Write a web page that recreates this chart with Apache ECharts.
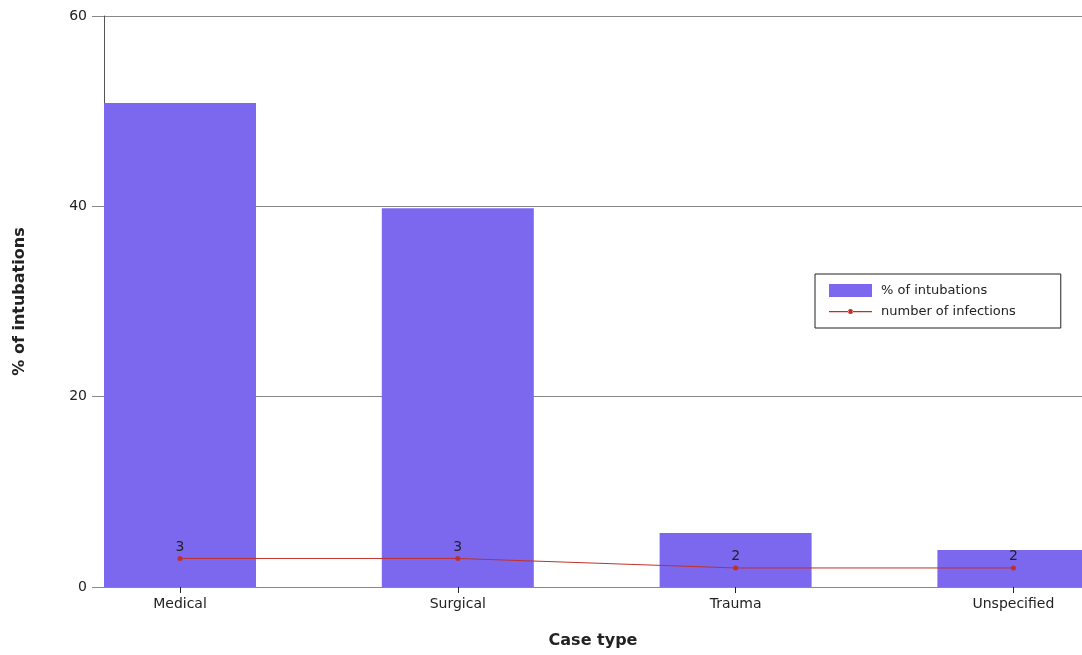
<!DOCTYPE html>
<html><head><meta charset="utf-8">
<script src="https://cdn.jsdelivr.net/npm/echarts@6/dist/echarts.min.js"></script>
<style>html,body{margin:0;padding:0;background:#fff}#c{width:1082px;height:655px}</style>
</head><body><div id="c"></div>
<script>
const categories = ['Medical', 'Surgical', 'Trauma', 'Unspecified'];
const pctIntubations = [50.86, 39.8, 5.67, 3.89];
const numInfections = [3, 3, 2, 2];
const yTicks = [0, 20, 40, 60];

const idx = categories.map((c, i) => i);
const chart = echarts.init(document.getElementById('c'));
const font = 'DejaVu Sans';
const lineIcon = 'path://M0,0 M43,13 M0,6 L19.5,6 L19.5,7.2 L0,7.2 Z M23.5,6 L43,6 L43,7.2 L23.5,7.2 Z M19,6.6 A2.5,2.5 0 1 0 24,6.6 A2.5,2.5 0 1 0 19,6.6 Z';
chart.setOption({
  animation: false,
  textStyle: { fontFamily: font },
  grid: { left: 104, right: 0, top: 16, bottom: 68 },
  legend: {
    orient: 'vertical', left: 815, top: 274,
    padding: [10, 45, 10, 14], itemGap: 8,
    itemWidth: 43, itemHeight: 13,
    borderColor: '#222', borderWidth: 1,
    textStyle: { fontFamily: font, fontSize: 13, color: '#222', padding: [0, 0, 0, 4] },
    data: [
      { name: '% of intubations', icon: 'rect' },
      { name: 'number of infections', icon: lineIcon }
    ]
  },
  xAxis: {
    type: 'value', min: -0.2736, max: 3.2469,
    name: 'Case type', nameLocation: 'middle', nameGap: 46,
    nameTextStyle: { fontFamily: font, fontSize: 16, fontWeight: 'bold', color: '#222' },
    axisLine: { show: true, lineStyle: { color: '#888' } },
    axisTick: { show: true, customValues: idx, length: 6, lineStyle: { color: '#222' } },
    axisLabel: { customValues: idx, formatter: v => categories[Math.round(v)], fontFamily: font, fontSize: 14, color: '#222', margin: 10 },
    splitLine: { show: false }
  },
  yAxis: {
    type: 'value', min: yTicks[0], max: yTicks[yTicks.length - 1], interval: 20,
    name: '% of intubations', nameLocation: 'middle', nameRotate: 90, nameGap: 76,
    nameTextStyle: { fontFamily: font, fontSize: 16, fontWeight: 'bold', color: '#222' },
    axisLine: { show: true, onZero: false, lineStyle: { color: '#555' } },
    axisTick: { show: true, length: 12, lineStyle: { color: '#888' } },
    axisLabel: { fontFamily: font, fontSize: 14, color: '#222', margin: 17 },
    splitLine: { show: true, lineStyle: { color: '#888' } }
  },
  series: [
    {
      name: '% of intubations', type: 'bar', barWidth: 152,
      itemStyle: { color: '#7B68EE' },
      data: pctIntubations.map((v, i) => [i, v])
    },
    {
      name: 'number of infections', type: 'line',
      symbol: 'circle', symbolSize: 5,
      lineStyle: { color: '#C0302B', width: 1 },
      itemStyle: { color: '#C0302B' },
      label: { show: true, position: 'top', distance: 2, fontFamily: font, fontSize: 14, color: '#222' },
      data: numInfections.map((v, i) => [i, v])
    }
  ]
});
</script></body></html>
